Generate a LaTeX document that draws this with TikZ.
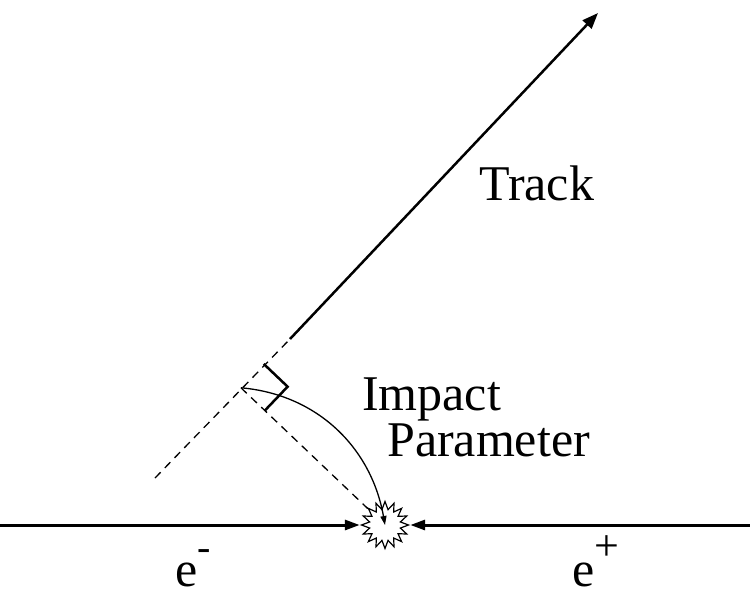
\documentclass[tikz,border=0pt]{standalone}
\usepackage{fontspec}
\setmainfont{Liberation Serif}
\usetikzlibrary{positioning, arrows.meta, calc, shapes.geometric}

\tikzset{
  lbl/.style={font=\fontsize{50}{46}\selectfont, inner sep=0pt},
  beam/.style={line width=3pt, -{Triangle[length=15pt,width=10pt]}},
  trk/.style={line width=2.5pt},
  guide/.style={line width=1.3pt, dash pattern=on 8pt off 6pt},
}

\begin{document}
\begin{tikzpicture}[x=1pt, y=-1pt]
\useasboundingbox (0,0) rectangle (750,598);
\node[star, star points=16, star point ratio=1.5, minimum size=47pt,
      inner sep=0pt, draw, line width=1.2pt] at (385,525) (burst) {};
\coordinate (lbeam) at (0,525);
\coordinate (rbeam) at (750,525);
\coordinate (tail) at (155,478);
\coordinate (mid) at (290,339);
\coordinate (tip) at (598,13);
\coordinate (foot) at ($(tail)!(burst.center)!(tip)$);
\coordinate (ra1) at ($(foot)!33pt!(tip)$);
\coordinate (ra2) at ($(foot)!33pt!(burst.center)$);
\coordinate (ra) at ($(ra1)+(ra2)-(foot)$);
\draw[beam] (lbeam) -- (burst.west);
\draw[beam] (rbeam) -- (burst.east);
\draw[guide] (tail) -- (mid);
\draw[trk, -{Triangle[length=16pt,width=12pt]}] (mid) -- (tip);
\draw[guide] (foot) -- (burst);
\draw[trk] (ra1) -- (ra) -- (ra2);
\draw[line width=1.3pt, -{Triangle[length=9pt,width=6pt]}] (foot) to[out=-5, in=100] (burst.center);
\node[lbl, anchor=base west] at (479,200) (track) {Track};
\node[lbl, anchor=base west, align=left] at (362,456) (impact) {Impact\\\hspace*{25pt}Parameter};
\node[lbl, anchor=base west] at (175,586) (eminus) {e\raisebox{26pt}{\fontsize{40}{40}\selectfont -}};
\node[lbl, anchor=base west] at (572,586) (eplus) {e\raisebox{26pt}{\fontsize{44}{44}\selectfont +}};
\end{tikzpicture}
\end{document}
